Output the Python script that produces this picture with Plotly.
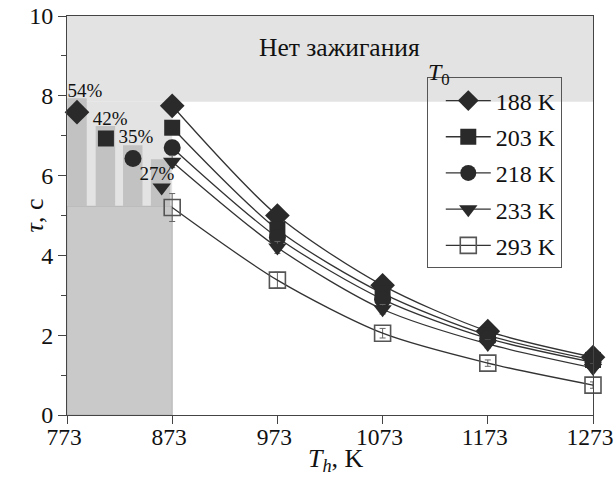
import plotly.graph_objects as go

# Heater temperature, K
T_h = [873, 973, 1073, 1173, 1273]

# Ignition delay time, s, for each initial fuel temperature T0
tau_188 = [7.75, 5.00, 3.25, 2.10, 1.45]
tau_203 = [7.20, 4.65, 3.05, 2.00, 1.38]
tau_218 = [6.70, 4.45, 2.90, 1.92, 1.32]
tau_233 = [6.35, 4.20, 2.65, 1.78, 1.18]
tau_293 = [5.20, 3.38, 2.05, 1.30, 0.75]

err_188 = [0.15, 0.20, 0.15, 0.10, 0.10]
err_203 = [0.15, 0.15, 0.12, 0.10, 0.10]
err_218 = [0.15, 0.15, 0.12, 0.10, 0.10]
err_233 = [0.15, 0.15, 0.12, 0.10, 0.10]
err_293 = [0.35, 0.20, 0.12, 0.08, 0.08]

series_names = ["188 K", "203 K", "218 K", "233 K", "293 K"]

# Relative increase of ignition delay at T_h = 873 K (inset bars)
bar_x = [782.5, 809.5, 835.5, 862.0]
bar_top = [7.94, 7.24, 6.76, 6.41]
bar_base = 5.23
bar_pct = ["54%", "42%", "35%", "27%"]
pct_x = [790, 814, 838.5, 858.5]
pct_y = [8.08, 7.38, 6.93, 6.0]
inset_x = [782.5, 810.0, 835.7, 863.0]
inset_tau = [7.59, 6.93, 6.43, 5.70]

# No-ignition threshold
no_ignition_tau = 7.85

serif = "Liberation Serif"
dark = "#2a2a2a"

fig = go.Figure()

# Shaded regions
fig.add_shape(type="rect", xref="x", yref="y", x0=773, x1=1273, y0=no_ignition_tau, y1=10,
              fillcolor="#e3e3e3", line_width=0, layer="below")
fig.add_shape(type="rect", xref="x", yref="y", x0=773, x1=873, y0=bar_base, y1=no_ignition_tau,
              fillcolor="#e3e3e3", line_width=0, layer="below")
fig.add_shape(type="rect", xref="x", yref="y", x0=773, x1=873, y0=0, y1=bar_base,
              fillcolor="#c9c9c9", line=dict(color="#b5b5b5", width=1), layer="below")

# Inset bars
fig.add_trace(go.Bar(
    x=bar_x, y=[t - bar_base for t in bar_top], base=bar_base, width=18.5,
    marker=dict(color="#c2c2c2", line=dict(width=0)), showlegend=False, hoverinfo="skip"))

fig.add_trace(go.Scatter(
    x=pct_x, y=pct_y, mode="text", text=bar_pct, textposition="middle center",
    textfont=dict(family=serif, size=19, color="#111"), showlegend=False, cliponaxis=False))

symbols = ["diamond", "square", "circle", "triangle-down"]
sizes = [19, 16, 17, 16]
for xi, yi, s, sz in zip(inset_x, inset_tau, symbols, sizes):
    fig.add_trace(go.Scatter(x=[xi], y=[yi], mode="markers",
                             marker=dict(symbol=s, size=sz, color=dark),
                             showlegend=False, cliponaxis=False))

# Main curves
all_tau = [tau_188, tau_203, tau_218, tau_233, tau_293]
all_err = [err_188, err_203, err_218, err_233, err_293]
main_symbols = ["diamond", "square", "circle", "triangle-down", "square-open"]
main_sizes = [19, 16, 17, 16, 16]
for i, (tau, err, name) in enumerate(zip(all_tau, all_err, series_names)):
    open_marker = main_symbols[i] == "square-open"
    fig.add_trace(go.Scatter(
        x=T_h, y=tau, name=name, mode="lines+markers", legendgroup=name,
        cliponaxis=False,
        line=dict(color="#333333", width=1.3, shape="spline", smoothing=0.8),
        marker=dict(symbol=main_symbols[i], size=main_sizes[i],
                    color="#555555" if open_marker else dark,
                    line=dict(width=1.6 if open_marker else 0, color="#555555")),
        error_y=dict(type="data", array=err, color="#666666", thickness=1, width=3),
    ))

fig.add_annotation(x=1032, y=9.22, xref="x", yref="y", text="Нет зажигания", showarrow=False,
                   font=dict(family=serif, size=25.5, color="#111"))
fig.add_annotation(x=1114, y=8.55, xref="x", yref="y", text="<i>T</i><sub>0</sub>",
                   showarrow=False, xanchor="left", yanchor="middle",
                   font=dict(family=serif, size=24, color="#111"))

# Axis titles
fig.add_annotation(x=0.512, y=-0.113, xref="paper", yref="paper",
                   xanchor="center", yanchor="middle",
                   text="<i>T</i><sub><i>h</i></sub>, K", showarrow=False,
                   font=dict(family=serif, size=26, color="#111"))
fig.add_annotation(x=-0.061, y=0.50, xref="paper", yref="paper", textangle=-90,
                   xanchor="center", yanchor="middle",
                   text="<i>τ</i>, с", showarrow=False,
                   font=dict(family=serif, size=26, color="#111"))

axis_common = dict(showline=True, linecolor="#444444", linewidth=1, mirror=True,
                   ticks="outside", ticklen=8, tickcolor="#444444", showgrid=False,
                   zeroline=False, automargin=False, ticklabeloverflow="allow")

fig.update_xaxes(range=[773, 1273], tickvals=[773, 873, 973, 1073, 1173, 1273],
                 tickfont=dict(family=serif, size=23.5, color="#111"),
                 ticklabelshift=-3, ticklabelstandoff=-7,
                 **axis_common)
fig.update_yaxes(range=[0, 10], tickvals=[0, 2, 4, 6, 8, 10],
                 tickfont=dict(family=serif, size=24, color="#111"),
                 minor=dict(tickvals=[1, 3, 5, 7, 9], ticks="outside", ticklen=5,
                            tickcolor="#444444"),
                 **axis_common)

fig.update_layout(
    width=614, height=479,
    margin=dict(l=67, r=21, t=16, b=64, autoexpand=False),
    plot_bgcolor="white", paper_bgcolor="white",
    barmode="overlay",
    legend=dict(x=0.684, y=0.846, xanchor="left", yanchor="top",
                bgcolor="rgba(0,0,0,0)", bordercolor="#555555", borderwidth=1,
                font=dict(family=serif, size=24, color="#111"),
                tracegroupgap=2, itemwidth=45, indentation=13),
    showlegend=True,
)

fig.write_html("out.html")
